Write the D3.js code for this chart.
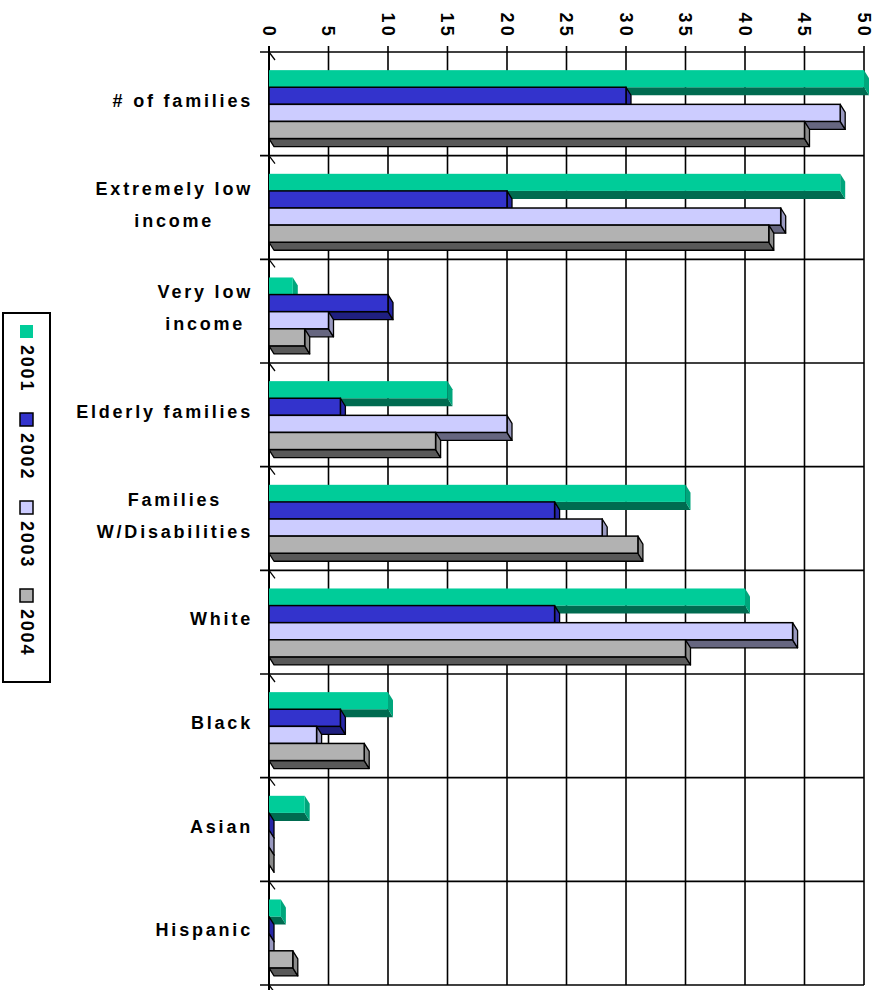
<!DOCTYPE html>
<html><head><meta charset="utf-8">
<script src="https://cdn.jsdelivr.net/npm/d3@7"></script>
<style>
html,body{margin:0;padding:0;background:#fff;}
text{font-family:"Liberation Sans",Arial,sans-serif;font-weight:bold;fill:#000;}
</style></head>
<body><svg id="chart" width="882" height="990"></svg>
<script>
const categories = ["# of families", "Extremely low\nincome", "Very low\nincome", "Elderly families", "Families\nW/Disabilities", "White", "Black", "Asian", "Hispanic"];
const seriesNames = ["2001", "2002", "2003", "2004"];
const values2001 = [50, 48, 2, 15, 35, 40, 10, 3, 1];
const values2002 = [30, 20, 10, 6, 24, 24, 6, 0, 0];
const values2003 = [48, 43, 5, 20, 28, 44, 4, 0, 0];
const values2004 = [45, 42, 3, 14, 31, 35, 8, 0, 2];
const tickValues = [0, 5, 10, 15, 20, 25, 30, 35, 40, 45, 50];
const faceColors = ["#00CC99", "#3333CC", "#CCCCFF", "#B2B2B2"];
const capColors  = ["#00A67C", "#2626A6", "#9999C0", "#8A8A8A"];
const sideColors = ["#006B50", "#1F1F80", "#666680", "#595959"];
const strokes    = ["none", "#000", "#000", "#000"];

(function () {
const seriesValues = [values2001, values2002, values2003, values2004];
const svg = d3.select("#chart");
const pL = 269, pR = 864, pT = 52, pB = 985;
const x = d3.scaleLinear().domain([0, 50]).range([pL, pR]);
const y = d3.scaleBand().domain(d3.range(categories.length)).range([pT, pB]).padding(0);
const bw = y.bandwidth();
const ys = d3.scaleBand().domain(d3.range(4)).range([bw*0.175, bw*0.175 + bw*0.66]).padding(0);
const dx = 5, dy = 8;

// gridlines
const g = svg.append("g");
g.selectAll(".vg").data(tickValues).join("line")
  .attr("x1", d => x(d)).attr("x2", d => x(d))
  .attr("y1", pT - 6).attr("y2", pB)
  .attr("stroke", "#000").attr("stroke-width", 1.6);
const bounds = d3.range(categories.length + 1).map(i => i < categories.length ? y(i) : pB);
g.selectAll(".hg").data(bounds).join("line")
  .attr("x1", pL - 9).attr("x2", x(50))
  .attr("y1", d => d).attr("y2", d => d)
  .attr("stroke", "#000").attr("stroke-width", 1.6);
g.selectAll(".dg").data(bounds).join("line")
  .attr("x1", pL).attr("x2", pL + dx + 1)
  .attr("y1", d => d).attr("y2", d => d + dy)
  .attr("stroke", "#000").attr("stroke-width", 1.3);
g.append("line").attr("x1", pL).attr("x2", pL).attr("y1", pT - 6).attr("y2", 990)
  .attr("stroke", "#000").attr("stroke-width", 2);

// tick labels
svg.append("g").selectAll("text").data(tickValues).join("text")
  .attr("transform", d => `translate(${x(d)},39) rotate(90)`)
  .attr("text-anchor", "end").attr("dy", "0.35em")
  .attr("font-size", 18).attr("letter-spacing", 3.2)
  .text(d => d);

// bars
const bars = svg.append("g");
const pts = (arr) => arr.map(p => p.join(",")).join(" ");
seriesValues.forEach((vals, s) => {
  const gs = bars.append("g");
  vals.forEach((v, i) => {
    const y0 = y(i) + ys(s), h = ys.bandwidth(), x0 = pL, x1 = x(v);
    gs.append("polygon")
      .attr("points", pts([[x0, y0 + h], [x1, y0 + h], [x1 + dx, y0 + h + dy], [x0 + dx, y0 + h + dy]]))
      .attr("fill", sideColors[s]).attr("stroke", strokes[s]).attr("stroke-width", 1.3).attr("stroke-linejoin", "round");
    gs.append("polygon")
      .attr("points", pts([[x1, y0], [x1 + dx, y0 + dy], [x1 + dx, y0 + h + dy], [x1, y0 + h]]))
      .attr("fill", capColors[s]).attr("stroke", strokes[s]).attr("stroke-width", 1.3).attr("stroke-linejoin", "round");
    gs.append("rect")
      .attr("x", x0).attr("y", y0).attr("width", x1 - x0).attr("height", h)
      .attr("fill", faceColors[s]).attr("stroke", strokes[s]).attr("stroke-width", 1.5);
  });
});

// category labels
const lab = svg.append("g");
categories.forEach((c, i) => {
  const lines = c.split("\n");
  const cy = y(i) + bw/2 - 3;
  const lh = 32;
  const t = lab.append("g");
  const texts = lines.map((ln, k) => t.append("text")
    .attr("y", cy + (k - (lines.length - 1)/2) * lh)
    .attr("dy", "0.35em").attr("font-size", 18).attr("letter-spacing", 2.8)
    .attr("text-anchor", "middle").text(ln));
  const maxW = d3.max(texts, tx => tx.node().getComputedTextLength());
  texts.forEach(tx => tx.attr("x", 253 - maxW/2));
});

// legend
const leg = svg.append("g");
leg.append("rect").attr("x", 3).attr("y", 313).attr("width", 47).attr("height", 369)
  .attr("fill", "#fff").attr("stroke", "#000").attr("stroke-width", 2);
seriesNames.forEach((n, s) => {
  const ly = 325 + s * 88;
  leg.append("rect").attr("x", 20).attr("y", ly).attr("width", 13).attr("height", 13)
    .attr("fill", faceColors[s]).attr("stroke", strokes[s]).attr("stroke-width", 1.5);
  leg.append("text").attr("transform", `translate(27,${ly + 20}) rotate(90)`)
    .attr("dy", "0.35em").attr("font-size", 18).attr("letter-spacing", 1.8)
    .text(n);
});
})();
</script></body></html>
